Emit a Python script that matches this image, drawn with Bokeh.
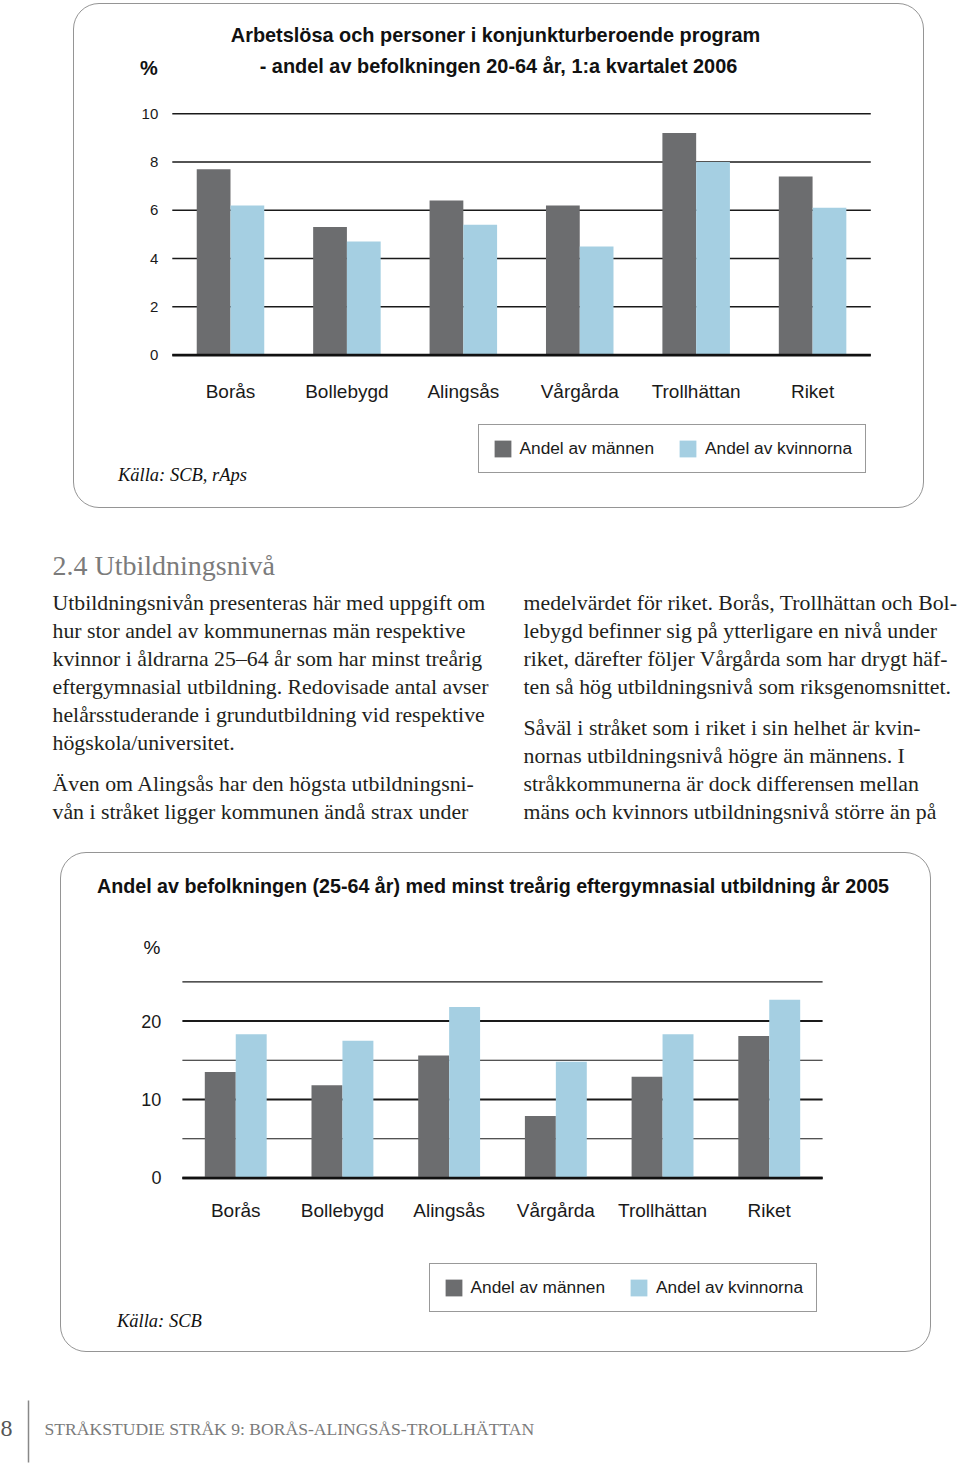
from bokeh.plotting import figure
from bokeh.models import (Range1d, FixedTicker, Label, Legend, LegendItem,
                          ColumnDataSource)
from bokeh.transform import dodge
from bokeh.layouts import column
from bokeh.embed import file_html
from bokeh.resources import INLINE
from bokeh.core.properties import value

# ---------------- data ----------------
categories = ["Borås", "Bollebygd", "Alingsås", "Vårgårda", "Trollhättan", "Riket"]
series_labels = ["Andel av männen", "Andel av kvinnorna"]

unemp_men = [7.7, 5.3, 6.4, 6.2, 9.2, 7.4]
unemp_women = [6.2, 4.7, 5.4, 4.5, 8.0, 6.1]
unemp_ticks = [0, 2, 4, 6, 8, 10]

edu_men = [13.5, 11.8, 15.6, 7.9, 12.9, 18.1]
edu_women = [18.3, 17.5, 21.8, 14.8, 18.3, 22.7]
edu_grid_ticks = [0, 5, 10, 15, 20, 25]
edu_label_ticks = [0, 10, 20]

title1_lines = ["Arbetslösa och personer i konjunkturberoende program",
                "- andel av befolkningen 20-64 år, 1:a kvartalet 2006"]
source1 = "Källa: SCB, rAps"
title2 = "Andel av befolkningen (25-64 år) med minst treårig eftergymnasial utbildning år 2005"
source2 = "Källa: SCB"

heading = "2.4 Utbildningsnivå"
left_par1 = ["Utbildningsnivån presenteras här med uppgift om",
             "hur stor andel av kommunernas män respektive",
             "kvinnor i åldrarna 25–64 år som har minst treårig",
             "eftergymnasial utbildning. Redovisade antal avser",
             "helårsstuderande i grundutbildning vid respektive",
             "högskola/universitet."]
left_par2 = ["Även om Alingsås har den högsta utbildningsni-",
             "vån i stråket ligger kommunen ändå strax under"]
right_par1 = ["medelvärdet för riket. Borås, Trollhättan och Bol-",
              "lebygd befinner sig på ytterligare en nivå under",
              "riket, därefter följer Vårgårda som har drygt häf-",
              "ten så hög utbildningsnivå som riksgenomsnittet."]
right_par2 = ["Såväl i stråket som i riket i sin helhet är kvin-",
              "nornas utbildningsnivå högre än männens. I",
              "stråkkommunerna är dock differensen mellan",
              "mäns och kvinnors utbildningsnivå större än på"]
page_no = "8"
footer_text = "STRÅKSTUDIE STRÅK 9: BORÅS-ALINGSÅS-TROLLHÄTTAN"

# ---------------- style ----------------
GRAY = "#6c6d6f"
BLUE = "#a5cfe2"
SANS = "Liberation Sans"
SERIF = "Liberation Serif"
BOX_STYLE = {"border": "1.5px solid #959595", "border-radius": "26px",
             "box-sizing": "border-box"}


def bar_chart(width, height, x_range, y_range, men, women, grid_ticks, label_ticks,
              grid_widths, tick_font, cat_standoff, tick_standoff, margin):
    n = len(categories)
    src = ColumnDataSource(dict(xi=list(range(n)), men=men, women=women))
    p = figure(x_range=x_range, y_range=y_range, width=width, height=height,
               output_backend="svg", toolbar_location=None, min_border=0,
               margin=margin)
    p.background_fill_color = None
    p.border_fill_color = None
    p.outline_line_color = None
    p.styles = BOX_STYLE
    p.grid.visible = False
    # horizontal grid lines spanning the category area
    p.segment(x0=[-0.5] * len(grid_ticks), x1=[n - 0.5] * len(grid_ticks),
              y0=grid_ticks, y1=grid_ticks, line_color="#1a1a1a",
              line_width=grid_widths)
    rm = p.vbar(x=dodge("xi", -0.145), top="men", width=0.29, source=src,
                fill_color=GRAY, line_color=None)
    rw = p.vbar(x=dodge("xi", 0.145), top="women", width=0.29, source=src,
                fill_color=BLUE, line_color=None)
    p.segment(x0=[-0.5], x1=[n - 0.5], y0=[0], y1=[0], line_color="#111111",
              line_width=2.6)
    p.xaxis.ticker = FixedTicker(ticks=list(range(n)))
    p.xaxis.major_label_overrides = {i: c for i, c in enumerate(categories)}
    p.xaxis.fixed_location = 0
    p.yaxis.ticker = FixedTicker(ticks=label_ticks)
    p.yaxis.fixed_location = -0.5
    for ax in (p.xaxis, p.yaxis):
        ax.axis_line_color = None
        ax.major_tick_line_color = None
        ax.minor_tick_line_color = None
        ax.major_label_text_font = SANS
        ax.major_label_text_color = "#1a1a1a"
    p.yaxis.major_label_text_font_size = tick_font
    p.yaxis.major_label_standoff = tick_standoff
    p.xaxis.major_label_text_font_size = "19px"
    p.xaxis.major_label_standoff = cat_standoff
    return p, rm, rw


def add_legend(p, rm, rw, x, y):
    leg = Legend(items=[LegendItem(label=value(series_labels[0]), renderers=[rm]),
                        LegendItem(label=value(series_labels[1]), renderers=[rw])],
                 orientation="horizontal", location=(x, y),
                 border_line_color="#333333", border_line_width=1,
                 background_fill_color="white", background_fill_alpha=1,
                 padding=13, spacing=23, label_standoff=7, margin=0,
                 glyph_width=21, glyph_height=21, label_height=17,
                 label_text_font=SANS, label_text_font_size="17.3px",
                 label_text_color="#1a1a1a")
    p.add_layout(leg)


def lbl(p, x, y, text, size, bold=False, italic=False, font=SANS, align="center"):
    style = "bold" if bold else ("italic" if italic else "normal")
    p.add_layout(Label(x=x, y=y, x_units="screen", y_units="screen", text=text,
                       text_font=font, text_font_size=size, text_font_style=style,
                       text_align=align, text_baseline="middle", text_color="#111111"))


# ---------------- chart 1 ----------------
p1, m1, w1 = bar_chart(851, 505, Range1d(-1.34, 5.97), Range1d(-6.396, 14.521),
                       unemp_men, unemp_women, unemp_ticks, unemp_ticks,
                       1.5, "15px", 20, 8, (3, 0, 0, 73))
# screen coords relative to inner bottom-left (page 74.5, 506.5)
lbl(p1, 421, 474.5, title1_lines[0], "19.9px", bold=True)
lbl(p1, 424, 443.5, title1_lines[1], "19.9px", bold=True)
lbl(p1, 74.5, 441.5, "%", "20px", bold=True)
lbl(p1, 43.5, 34.5, source1, "18.5px", italic=True, font=SERIF, align="left")
add_legend(p1, m1, w1, 403.5, 36.5)

# ---------------- text block ----------------
t = figure(width=960, height=344, x_range=Range1d(0, 960), y_range=Range1d(344, 0),
           output_backend="svg", toolbar_location=None, min_border=0,
           x_axis_type=None, y_axis_type=None)
t.grid.visible = False
t.outline_line_color = None
t.text(x=[52], y=[57], text=[heading], text_font=value(SERIF),
       text_font_size=value("28px"), text_color="#7b7b7b", text_baseline="middle")


def para(lines, x, y0):
    t.text(x=[x] * len(lines), y=[y0 + 28 * i for i in range(len(lines))], text=lines,
           text_font=value(SERIF), text_font_size=value("21.8px"),
           text_color="#231f20", text_baseline="middle")


para(left_par1, 52, 94)
para(left_par2, 52, 275)
para(right_par1, 523, 94)
para(right_par2, 523, 219)

# ---------------- chart 2 ----------------
p2, m2, w2 = bar_chart(871, 500, Range1d(-1.633, 6.530), Range1d(-22.37, 41.35),
                       edu_men, edu_women, edu_grid_ticks, edu_label_ticks,
                       [2.4, 1.2, 2.0, 1.2, 2.0, 1.2], "18px", 16, 15, (0, 0, 0, 60))
# screen coords relative to inner bottom-left (page 61.5, 1350.5)
lbl(p2, 431.5, 467.5, title2, "19.7px", bold=True)
lbl(p2, 90.5, 406.5, "%", "19px")
lbl(p2, 55.5, 33, source2, "18.5px", italic=True, font=SERIF, align="left")
add_legend(p2, m2, w2, 367.5, 41.5)

# ---------------- footer ----------------
f = figure(width=960, height=113, x_range=Range1d(0, 960), y_range=Range1d(113, 0),
           output_backend="svg", toolbar_location=None, min_border=0,
           x_axis_type=None, y_axis_type=None)
f.grid.visible = False
f.outline_line_color = None
f.text(x=[6], y=[76], text=[page_no], text_font=value(SERIF),
       text_font_size=value("24px"), text_color="#555555", text_baseline="middle",
       text_align="center")
f.segment(x0=[28], y0=[48], x1=[28], y1=[110], line_color="#888888", line_width=1.5)
f.text(x=[44], y=[76], text=[footer_text], text_font=value(SERIF),
       text_font_size=value("17.6px"), text_color="#7b7b7b", text_baseline="middle")

layout = column(p1, t, p2, f, spacing=0)
open("out.html", "w").write(file_html(layout, INLINE))
